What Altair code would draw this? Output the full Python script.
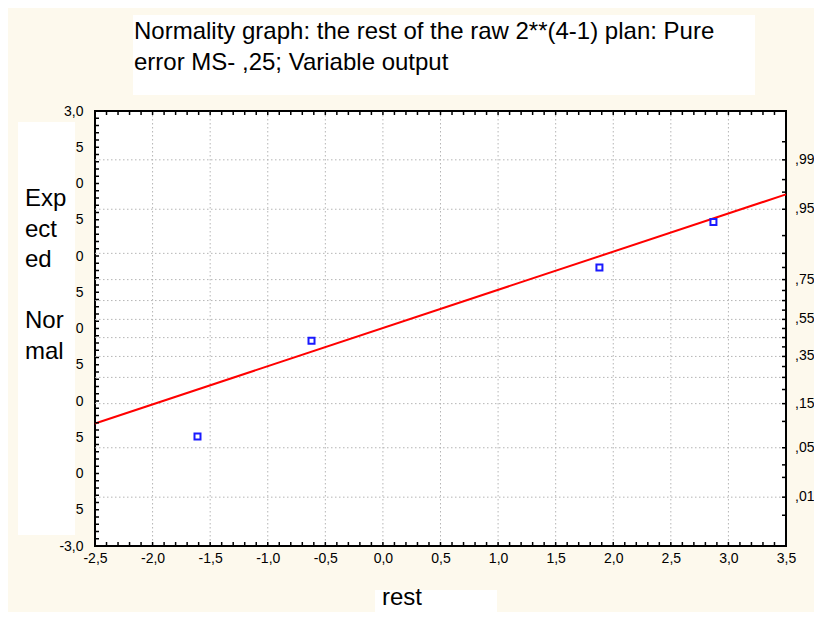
import altair as alt
import pandas as pd
from statistics import NormalDist

# ---------------- data ----------------
rest = [-1.61, -0.62, 1.88, 2.87]
expected = [-1.49, -0.17, 0.84, 1.47]
fit_x = [-2.5, 3.5]
fit_y = [-1.31, 1.85]

x_tick_values = [-2.5, -2.0, -1.5, -1.0, -0.5, 0.0, 0.5, 1.0, 1.5, 2.0, 2.5, 3.0, 3.5]
x_grid_values = [-2.0, -1.5, -1.0, -0.5, 0.0, 0.5, 1.0, 1.5, 2.0, 2.5, 3.0]
y_tick_values = [-3.0, -2.5, -2.0, -1.5, -1.0, -0.5, 0.0, 0.5, 1.0, 1.5, 2.0, 2.5, 3.0]
prob_label_values = [0.01, 0.05, 0.15, 0.35, 0.55, 0.75, 0.95, 0.99]
prob_labels = [",01", ",05", ",15", ",35", ",55", ",75", ",95", ",99"]
prob_grid_values = [0.01, 0.05, 0.15, 0.25, 0.35, 0.45, 0.55, 0.65, 0.75, 0.85, 0.95, 0.99]
prob_tick_values = [0.005, 0.01, 0.02, 0.03, 0.05, 0.1, 0.15, 0.2, 0.25, 0.3, 0.35, 0.4,
                    0.45, 0.5, 0.55, 0.6, 0.65, 0.7, 0.75, 0.8, 0.85, 0.9, 0.95, 0.97,
                    0.98, 0.99, 0.995]
minor_x_ticks = [round(-2.5 + 0.1 * i, 1) for i in range(1, 60)]
minor_y_ticks = [round(-3.0 + 0.1 * i, 1) for i in range(1, 60)]

title_lines = ["Normality graph: the rest of the raw 2**(4-1) plan: Pure",
               "error  MS- ,25; Variable output"]
y_title_block1 = ["Exp", "ect", "ed"]
y_title_block2 = ["Nor", "mal"]
x_title = "rest"

# ---------------- layout ----------------
W, H = 691, 435
FONT = "Liberation Sans, Arial, sans-serif"
XS = alt.Scale(domain=[-2.5, 3.5], nice=False, zero=False)
YS = alt.Scale(domain=[-3.0, 3.0], nice=False, zero=False)
nd = NormalDist()

x_label_expr = "(datum.value < 0 ? '-' : '') + replace(format(abs(datum.value), '.1f'), '.', ',')"
y_label_expr = ("datum.value == 3 ? '3,0' : datum.value == -3 ? '-3,0' : "
                "(round(abs(datum.value) * 10) % 10 == 5 ? '5' : '0')")
XA = alt.Axis(values=x_tick_values, labelExpr=x_label_expr, grid=False, ticks=False,
              domain=False, labelPadding=5, labelFontSize=14, labelFont=FONT,
              labelColor="black", zindex=1, labelFlush=False, title=None)
YA = alt.Axis(values=y_tick_values, labelExpr=y_label_expr, grid=False, ticks=False,
              domain=False, labelPadding=12, labelFontSize=14, labelFont=FONT,
              labelColor="black", zindex=1, labelFlush=False, title=None)

pts = pd.DataFrame({"rest": rest, "expected": expected})
fit = pd.DataFrame({"x": fit_x, "y": fit_y})
prob_lab_df = pd.DataFrame({"z": [nd.inv_cdf(p) for p in prob_label_values], "label": prob_labels})
prob_grid_df = pd.DataFrame({"z": [nd.inv_cdf(p) for p in prob_grid_values]})
prob_tick_df = pd.DataFrame({"z": [nd.inv_cdf(p) for p in prob_tick_values]})
xgrid_df = pd.DataFrame({"gx": x_grid_values})
xminor_df = pd.DataFrame({"tx": minor_x_ticks})
yminor_df = pd.DataFrame({"ty": minor_y_ticks})
one = alt.Data(values=[{"k": 0}])


def X(field):
    return alt.X(field, type="quantitative", scale=XS, axis=XA, title=None)


def Y(field):
    return alt.Y(field, type="quantitative", scale=YS, axis=YA, title=None)


# white boxes behind the texts
def box(x1, x2, y1, y2):
    return alt.Chart(one).mark_rect(color="white").encode(
        x=alt.value(x1), x2=alt.value(x2), y=alt.value(y1), y2=alt.value(y2))


title_box = box(38, 660, -96, -16)
ytitle_box = box(-77, -20, 11, 424)
xtitle_box = box(280, 402, 479, 501)

# gridlines
hgrid = alt.Chart(prob_grid_df).mark_rule(color="#b5b5b5", strokeDash=[1.5, 2.5], strokeWidth=1).encode(
    y=Y("z"), x=alt.value(0), x2=alt.value(W))
vgrid = alt.Chart(xgrid_df).mark_rule(color="#b5b5b5", strokeDash=[1.5, 2.5], strokeWidth=1).encode(
    x=X("gx"), y=alt.value(0), y2=alt.value(H))

# fitted line
line = alt.Chart(fit).mark_line(color="#ff0000", strokeWidth=2).encode(x=X("x"), y=Y("y"))

# points
points = alt.Chart(pts).mark_point(shape="square", filled=False, color="#1a1aff",
                                   strokeWidth=2, size=36, opacity=1).encode(
    x=X("rest"), y=Y("expected"))

# right probability labels
right_labels = alt.Chart(prob_lab_df).mark_text(align="left", baseline="middle", fontSize=14,
                                                font=FONT, color="black").encode(
    y=Y("z"), x=alt.value(W + 9), text="label:N")

# small inward ticks on the frame
tick_style = dict(color="black", strokeWidth=1.5)
left_ticks = alt.Chart(yminor_df).mark_rule(**tick_style).encode(
    y=Y("ty"), x=alt.value(0), x2=alt.value(4))
top_ticks = alt.Chart(xminor_df).mark_rule(**tick_style).encode(
    x=X("tx"), y=alt.value(0), y2=alt.value(4))
bottom_ticks = alt.Chart(xminor_df).mark_rule(**tick_style).encode(
    x=X("tx"), y=alt.value(H), y2=alt.value(H - 4))
right_ticks = alt.Chart(prob_tick_df).mark_rule(**tick_style).encode(
    y=Y("z"), x=alt.value(W), x2=alt.value(W - 4))

# texts
text_style = dict(align="left", baseline="alphabetic", fontSize=24, font=FONT, color="black")
title_text = alt.Chart(one).mark_text(lineBreak="\n", lineHeight=31, **text_style).encode(
    x=alt.value(39), y=alt.value(-72), text=alt.value("\n".join(title_lines)))
ytitle_text1 = alt.Chart(one).mark_text(lineBreak="\n", lineHeight=30.5, **text_style).encode(
    x=alt.value(-70), y=alt.value(95), text=alt.value("\n".join(y_title_block1)))
ytitle_text2 = alt.Chart(one).mark_text(lineBreak="\n", lineHeight=30.5, **text_style).encode(
    x=alt.value(-70), y=alt.value(217), text=alt.value("\n".join(y_title_block2)))
xtitle_text = alt.Chart(one).mark_text(**text_style).encode(
    x=alt.value(287), y=alt.value(494), text=alt.value(x_title))

chart = alt.layer(
    title_box, ytitle_box, xtitle_box,
    hgrid, vgrid, line, points, right_labels,
    left_ticks, top_ticks, bottom_ticks, right_ticks,
    title_text, ytitle_text1, ytitle_text2, xtitle_text,
).properties(
    width=W, height=H,
    autosize=alt.AutoSizeParams(type="none"),
    padding={"left": 87, "top": 103, "right": 28, "bottom": 66},
).configure(
    background="#fdf9ed",
).configure_view(
    stroke="black", strokeWidth=2, fill="white",
)

chart.save("out.html", embed_options={"renderer": "svg", "actions": False})
